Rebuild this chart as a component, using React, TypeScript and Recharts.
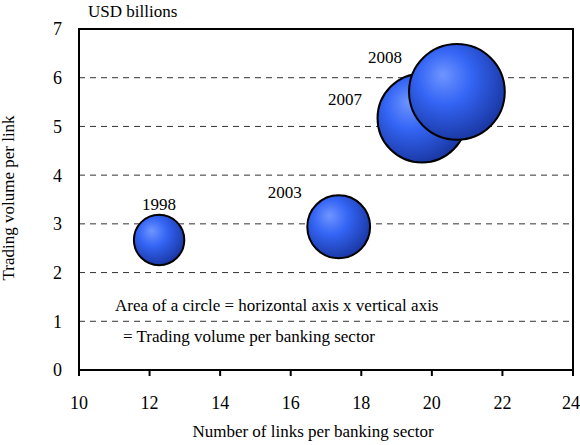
import React from 'react'
import {
  ScatterChart,
  Scatter,
  XAxis,
  YAxis,
  ZAxis,
  CartesianGrid,
  ReferenceArea,
} from 'recharts'

// bubble data
const years = ['1998', '2003', '2007', '2008']
const linksPerSector = [12.27, 17.36, 19.72, 20.71]
const volumePerLink = [2.67, 2.94, 5.17, 5.71]
// area of circle = links x volume per link
const volumePerSector = [32.8, 51.0, 102.0, 118.3]

const xTicks = [10, 12, 14, 16, 18, 20, 22, 24]
const yTicks = [0, 1, 2, 3, 4, 5, 6, 7]

const data = years.map((year, i) => ({
  year,
  x: linksPerSector[i],
  y: volumePerLink[i],
  z: volumePerSector[i],
}))

// where each year label sits relative to its bubble centre
const labelPos: Record<string, { dx: number; dy: number; anchor: 'start' | 'middle' | 'end' }> = {
  '1998': { dx: 0, dy: -30, anchor: 'middle' },
  '2003': { dx: -37, dy: -29, anchor: 'end' },
  '2007': { dx: -60, dy: -13, anchor: 'end' },
  '2008': { dx: -55, dy: -29, anchor: 'end' },
}

const FONT = 'Liberation Serif'

// eslint-disable-next-line @typescript-eslint/no-explicit-any
function Bubble(props: any) {
  const { cx, cy, width, payload } = props
  const pos = labelPos[payload.year]
  return (
    <g>
      <circle cx={cx} cy={cy} r={width / 2} fill="url(#bubbleFill)" stroke="#000" strokeWidth={2} />
      <text
        x={cx + pos.dx}
        y={cy + pos.dy}
        textAnchor={pos.anchor}
        fontFamily={FONT}
        fontSize={17}
        fill="#000"
      >
        {payload.year}
      </text>
    </g>
  )
}

export default function App() {
  const tickStyle = { fontFamily: FONT, fontSize: 18, fill: '#000' }
  const labelStyle = { fontFamily: FONT, fontSize: 17, fill: '#000' }
  return (
    <div style={{ position: 'absolute', left: 0, top: 0, background: '#fff' }}>
      <ScatterChart width={580} height={445} margin={{ top: 29, right: 7, left: 0, bottom: 0 }}>
        <defs>
          <radialGradient id="bubbleFill" cx="0.4" cy="0.38" r="0.62" fx="0.35" fy="0.32">
            <stop offset="0%" stopColor="#6f95ff" />
            <stop offset="45%" stopColor="#3465f5" />
            <stop offset="100%" stopColor="#1b3aa8" />
          </radialGradient>
        </defs>
        <CartesianGrid vertical={false} strokeDasharray="6 5" stroke="#333" />
        <XAxis
          type="number"
          dataKey="x"
          domain={[10, 24]}
          ticks={xTicks}
          height={75}
          tick={tickStyle}
          tickSize={6}
          tickMargin={20}
          axisLine={{ stroke: '#000', strokeWidth: 2 }}
          tickLine={{ stroke: '#000', strokeWidth: 2 }}
          label={{
            value: 'Number of links per banking sector',
            position: 'insideBottom',
            offset: 8,
            dx: -13,
            style: labelStyle,
          }}
        />
        <YAxis
          type="number"
          dataKey="y"
          domain={[0, 7]}
          ticks={yTicks}
          width={79}
          tick={tickStyle}
          tickLine={false}
          tickSize={6}
          tickMargin={11}
          axisLine={{ stroke: '#000', strokeWidth: 2 }}
          label={{
            value: 'Trading volume per link',
            angle: -90,
            position: 'insideLeft',
            offset: 8,
            dy: 81,
            style: labelStyle,
          }}
        />
        <ZAxis type="number" dataKey="z" domain={[0, 120]} range={[0, 7298]} />
        <ReferenceArea
          x1={10}
          x2={24}
          y1={0}
          y2={7}
          fill="none"
          stroke="#000"
          strokeWidth={2}
          ifOverflow="visible"
        />
        <Scatter data={data} shape={Bubble} isAnimationActive={false} />
        <text x={88} y={17} fontFamily={FONT} fontSize={17} fill="#000">
          USD billions
        </text>
        <text x={115} y={311} fontFamily={FONT} fontSize={17} fill="#000">
          Area of a circle = horizontal axis x vertical axis
        </text>
        <text x={123} y={342} fontFamily={FONT} fontSize={17} fill="#000">
          = Trading volume per banking sector
        </text>
      </ScatterChart>
    </div>
  )
}
